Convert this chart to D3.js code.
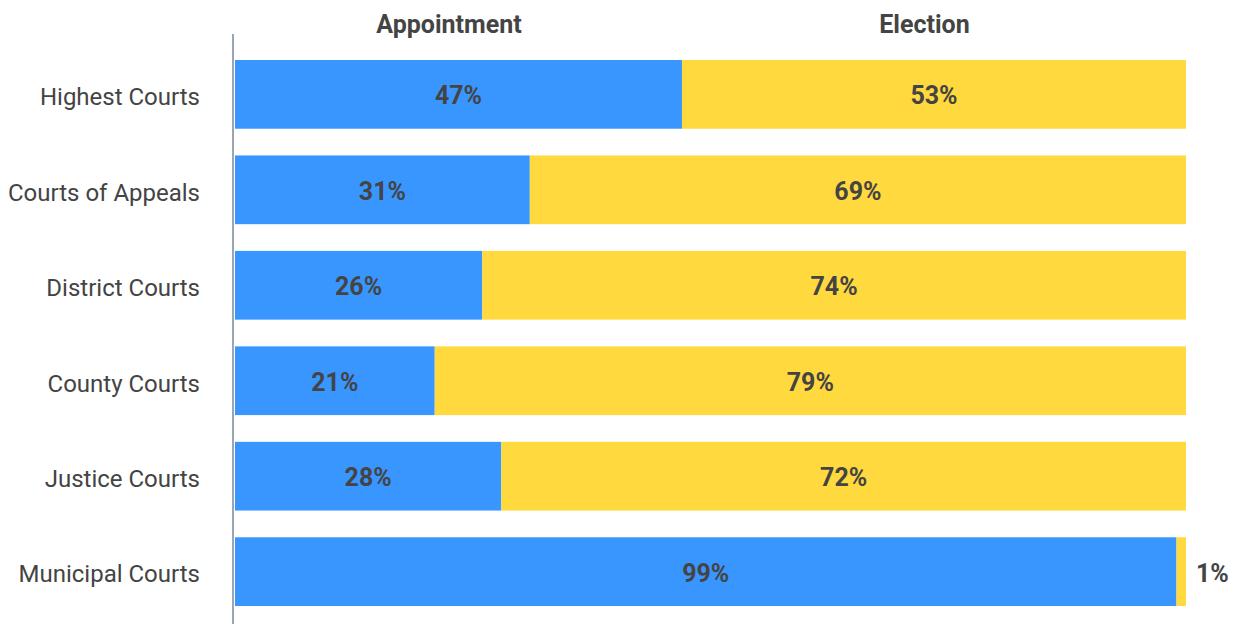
<!DOCTYPE html>
<html>
<head>
<meta charset="utf-8">
<script src="https://cdn.jsdelivr.net/npm/d3@7"></script>
<style>
  body { margin: 0; background: #fff; }
  text { font-family: Roboto, "Open Sans", sans-serif; fill: #444; }
</style>
</head>
<body>
<div id="chart"></div>
<script>
var courts = ['Highest Courts', 'Courts of Appeals', 'District Courts', 'County Courts', 'Justice Courts', 'Municipal Courts'];
var appointment = [47, 31, 26, 21, 28, 99];
var election = [53, 69, 74, 79, 72, 1];
var headers = ['Appointment', 'Election'];
var headerAt = [22.5, 72.5];

var width = 1238, height = 624;

var svg = d3.select('#chart').append('svg')
    .attr('width', width)
    .attr('height', height);

var x = d3.scaleLinear().domain([0, 100]).range([235, 1186]);
var y = d3.scaleBand().domain(courts).range([60, 606]).paddingInner(0.28).paddingOuter(0);

var rows = courts.map(function(c, i) {
    return { court: c, app: appointment[i], ele: election[i] };
});

// bars
var g = svg.selectAll('.row').data(rows).enter().append('g').attr('class', 'row');

g.append('rect')
    .attr('x', x(0))
    .attr('y', function(d) { return y(d.court); })
    .attr('width', function(d) { return x(d.app) - x(0); })
    .attr('height', y.bandwidth())
    .attr('fill', '#3a96ff');

g.append('rect')
    .attr('x', function(d) { return x(d.app); })
    .attr('y', function(d) { return y(d.court); })
    .attr('width', function(d) { return x(d.app + d.ele) - x(d.app); })
    .attr('height', y.bandwidth())
    .attr('fill', '#ffd93e');

g.append('text')
    .attr('x', function(d) { return x(d.app / 2); })
    .attr('y', function(d) { return y(d.court) + y.bandwidth() / 2; })
    .attr('dy', '.4em')
    .attr('text-anchor', 'middle')
    .style('font-size', '25px')
    .style('font-weight', 'bold')
    .text(function(d) { return d.app + '%'; });

g.append('text')
    .attr('x', function(d) { return d.ele < 5 ? x(100) + 10 : x(d.app + d.ele / 2); })
    .attr('y', function(d) { return y(d.court) + y.bandwidth() / 2; })
    .attr('dy', '.4em')
    .attr('text-anchor', function(d) { return d.ele < 5 ? 'start' : 'middle'; })
    .style('font-size', '25px')
    .style('font-weight', 'bold')
    .text(function(d) { return d.ele + '%'; });

// category axis
var yAxis = d3.axisLeft(y).tickSize(0).tickPadding(33);
var ax = svg.append('g')
    .attr('transform', 'translate(233,0)')
    .call(yAxis);
ax.select('.domain').remove();
ax.selectAll('.tick text')
    .attr('dy', '.45em')
    .style('font-size', '24px')
    .style('font-family', 'Roboto, sans-serif')
    .attr('fill', '#444');

svg.append('line')
    .attr('x1', 233).attr('x2', 233)
    .attr('y1', 34).attr('y2', height)
    .attr('stroke', '#9ba6b2')
    .attr('stroke-width', 2);

// headers
svg.selectAll('.hdr').data(headers).enter().append('text')
    .attr('class', 'hdr')
    .attr('x', function(d, i) { return x(headerAt[i]); })
    .attr('y', 33)
    .attr('text-anchor', 'middle')
    .style('font-size', '25px')
    .style('font-weight', 'bold')
    .text(function(d) { return d; });
</script>
</body>
</html>
